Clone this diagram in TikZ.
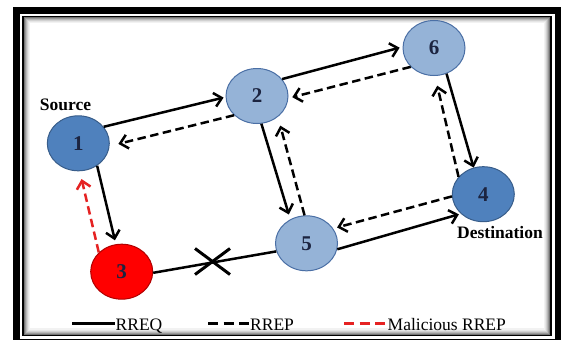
\documentclass[tikz,border=0pt]{standalone}
\usepackage{fontspec}
\setmainfont{Liberation Serif}
\usetikzlibrary{arrows.meta,shapes.geometric,shapes.misc}
\definecolor{darkblue}{HTML}{4F81BD}
\definecolor{darkbluebd}{HTML}{385D8A}
\definecolor{lightblue}{HTML}{95B3D7}
\definecolor{lightbluebd}{HTML}{4A6FA5}
\definecolor{malred}{HTML}{FF0000}
\definecolor{malredbd}{HTML}{B00000}
\definecolor{malline}{HTML}{E52222}
\definecolor{digit}{HTML}{1C2440}
\begin{document}
\begin{tikzpicture}[x=1pt,y=-1pt,
  nodebase/.style={ellipse, minimum width=62pt, minimum height=55pt, inner sep=0pt,
    line width=1pt, font=\fontsize{21}{21}\selectfont\bfseries, text=digit},
  darknode/.style={nodebase, fill=darkblue, draw=darkbluebd},
  lightnode/.style={nodebase, fill=lightblue, draw=lightbluebd},
  rednode/.style={nodebase, fill=malred, draw=malredbd},
  req/.style={line width=2.5pt, -{Straight Barb[length=7.5pt,width=14pt]}},
  rep/.style={req, dash pattern=on 8.5pt off 4.5pt},
  mal/.style={rep, draw=malline},
  lbl/.style={font=\fontsize{17.5}{18}\selectfont\bfseries, inner sep=0pt, anchor=base},
  leg/.style={font=\fontsize{17.5}{18}\selectfont, inner sep=0pt, anchor=base west},
  legline/.style={line width=3pt},
]
\useasboundingbox (0,0) rectangle (565,340);
\fill[white] (0,0) rectangle (565,340);
% frame
\draw[black, line width=6.5pt] (16.5,10.3) rectangle (558,342);
\draw[black, line width=1.5pt] (23,16.3) rectangle (551,335.5);
\foreach \i/\c in {1.5/55,2.5/40,3.5/28,4.5/18,5.5/10,6.5/5}
  \draw[black!\c, line width=1.1pt] (23+\i,16.3+\i) rectangle (551-\i,335.5-\i);

% nodes
\node[darknode]  (n1) at (78.3,143.3) {1};
\node[lightnode] (n2) at (257,96) {2};
\node[lightnode] (n6) at (434,48) {6};
\node[darknode]  (n4) at (483.3,194.2) {4};
\node[lightnode] (n5) at (306.5,243.3) {5};
\node[rednode]   (n3) at (121.7,271.7) {3};

\node[lbl] (src) at (65.5,110) {Source};
\node[lbl] (dst) at (500,238) {Destination};

% RREQ
\draw[req, shorten >=2pt] (n1.33) -- (n2.182);
\draw[req, shorten >=3pt] (n2.34) -- (n6.178);
\draw[req] (n6.-64) -- (n4.110);
\draw[req, shorten >=5pt] (n2.-81) -- (n5.124);
\draw[req, shorten >=2pt] (n5.-11) -- (n4.221);
\draw[req, shorten >=4pt] (n1.-50) -- (n3.102);
\draw[line width=2.5pt] (n3.-2) -- (n5.195);
\node[draw, cross out, minimum width=32pt, minimum height=23pt, inner sep=0pt,
  line width=3pt] (cut) at (212.5,261.5) {};

% RREP
\draw[rep, shorten >=9pt] (n2.220) -- (n1.-5);
\draw[rep, shorten >=4pt] (n6.219) -- (n2.-4);
\draw[rep, shorten >=10pt] (n4.145) -- (n6.-88);
\draw[rep, shorten >=9pt] (n5.94) -- (n2.-45);
\draw[rep, shorten >=4pt] (n4.184) -- (n5.29);
\draw[mal, shorten >=8pt] (n3.140) -- (n1.-87);

% legend
\coordinate (la1) at (72,323);
\coordinate (lb1) at (114.5,323);
\draw[legline] (la1) -- (lb1);
\node[leg] (lt1) at (115.5,330) {RREQ};
\coordinate (la2) at (208,323);
\coordinate (lb2) at (249,323);
\draw[legline, dash pattern=on 10pt off 5.5pt] (la2) -- (lb2);
\node[leg] (lt2) at (250,330) {RREP};
\coordinate (la3) at (344,323);
\coordinate (lb3) at (386,323);
\draw[legline, draw=malline, dash pattern=on 10pt off 5.5pt] (la3) -- (lb3);
\node[leg] (lt3) at (387.5,330) {Malicious RREP};
\end{tikzpicture}
\end{document}
